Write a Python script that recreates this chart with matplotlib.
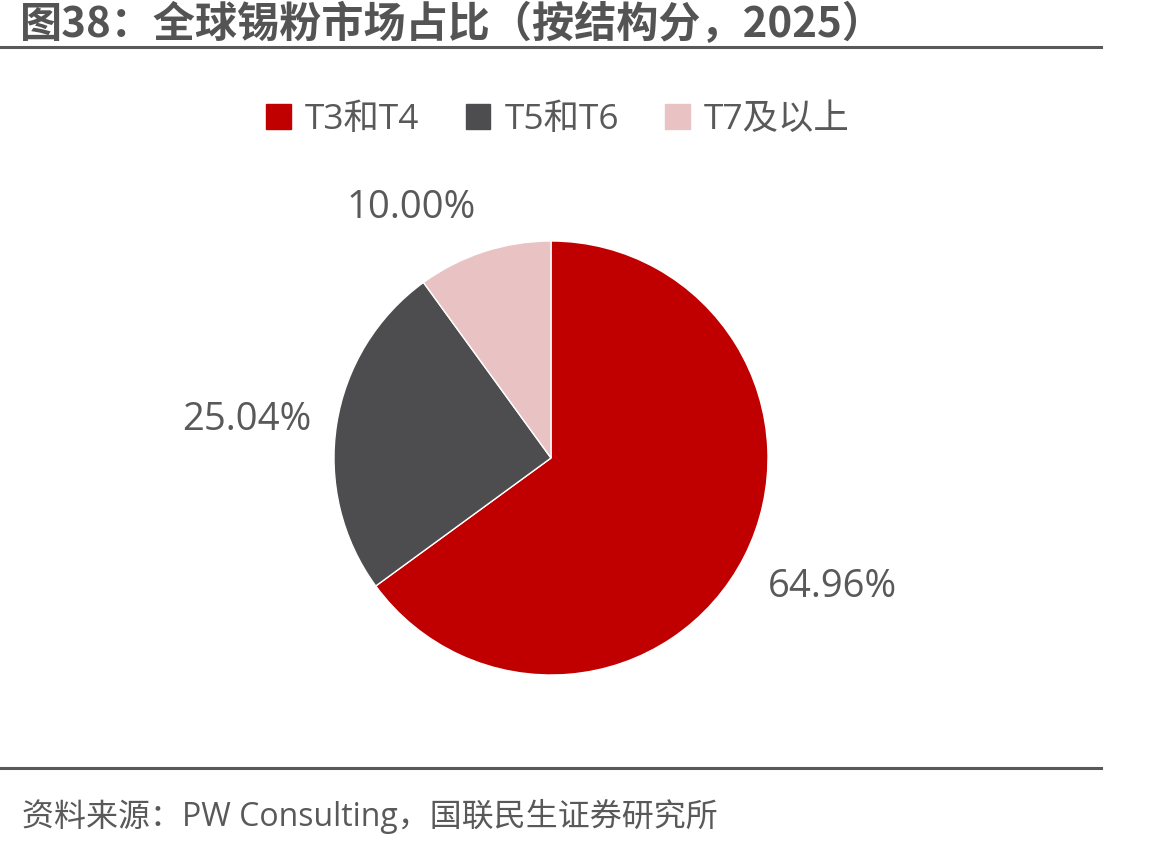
import matplotlib
matplotlib.use("Agg")
import matplotlib.pyplot as plt
import numpy as np

plt.rcParams['font.family'] = ['Open Sans', 'Noto Sans CJK SC', 'DejaVu Sans']

categories = ['T3和T4', 'T5和T6', 'T7及以上']
values = [64.96, 25.04, 10.00]
colors = ['#C00000', '#4D4D4F', '#E9C3C3']
title = '图38：全球锡粉市场占比（按结构分，2025）'
source = '资料来源：PW Consulting，国联民生证券研究所'
text_color = '#595959'

W, H = 1159, 847
fig = plt.figure(figsize=(W / 100, H / 100), dpi=100)
fig.patch.set_facecolor('white')

# pie axes (square in pixels)
cx, cy, r = 551, 458, 217
ax = fig.add_axes([(cx - r) / W, (H - cy - r) / H, 2 * r / W, 2 * r / H])
wedges, _ = ax.pie(values, colors=colors, startangle=90, counterclock=False,
                   radius=1.0, wedgeprops=dict(edgecolor='white', linewidth=1))
ax.set_xlim(-1, 1)
ax.set_ylim(-1, 1)
ax.axis('off')

d = 1.12
for w, v in zip(wedges, values):
    ang = np.deg2rad((w.theta1 + w.theta2) / 2)
    x, y = d * np.cos(ang), d * np.sin(ang)
    ha = 'left' if x > 0 else 'right'
    va = 'bottom' if y > 0.4 else ('top' if y < -0.4 else 'center')
    ax.text(x, y, f'{v:.2f}%', ha=ha, va=va, fontsize=27.5, color=text_color)

# legend
handles = [plt.Rectangle((0, 0), 1, 1, color=c) for c in colors]
fig.legend(handles, categories, loc='center', bbox_to_anchor=(558 / W, 1 - 120 / H),
           ncol=3, frameon=False, fontsize=25.5, labelcolor=text_color,
           handlelength=0.7, handleheight=0.7, handletextpad=0.4, columnspacing=1.3)

# title and rules
fig.text(20 / W, 1 - 25 / H, title, ha='left', va='center', fontsize=30.3,
         fontweight='bold', color='#545454', family=['Noto Sans CJK SC', 'DejaVu Sans'])
fig.add_artist(plt.Line2D([0, 1101 / W], [1 - 47 / H, 1 - 47 / H], color='#595959', lw=2.2))
fig.add_artist(plt.Line2D([0, 1101 / W], [1 - 768 / H, 1 - 768 / H], color='#595959', lw=2.2))
fig.text(22 / W, 1 - 816 / H, source, ha='left', va='center', fontsize=23, color=text_color)

fig.savefig('out.png', dpi=100)
